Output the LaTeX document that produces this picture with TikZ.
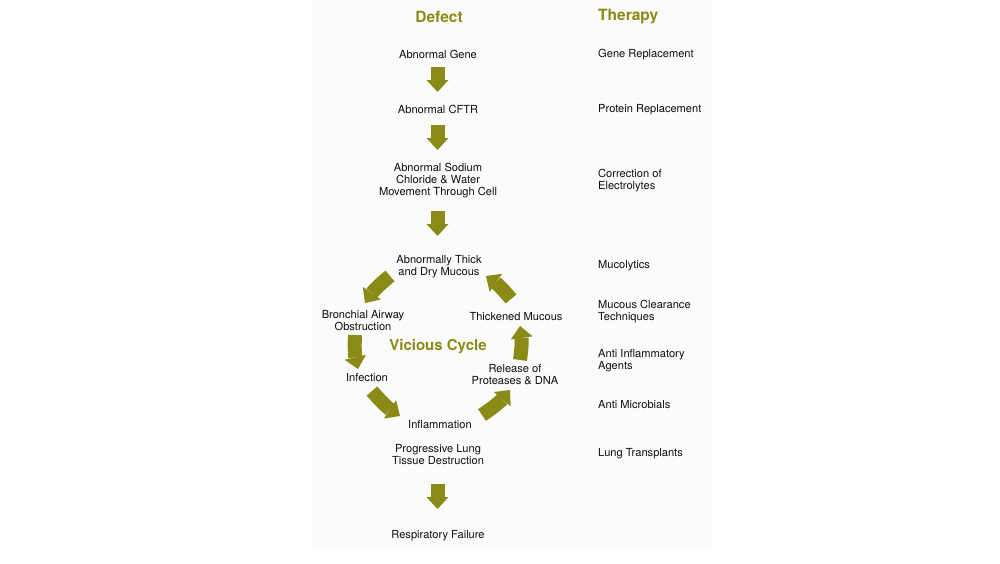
\documentclass[tikz,border=0pt]{standalone}
\usepackage{fontspec}
\setmainfont{TeX Gyre Heros}
\usetikzlibrary{arrows.meta}
\definecolor{olivebrand}{RGB}{138,138,22}
\definecolor{txt}{RGB}{15,15,15}
\definecolor{panel}{RGB}{251,251,251}
\tikzset{
  lbl/.style={text=txt, font=\fontsize{11.1}{12}\selectfont, align=center, inner sep=0pt},
  rlbl/.style={lbl, align=left, anchor=west},
  ttl/.style={text=olivebrand, font=\fontsize{15.5}{18}\bfseries\selectfont, inner sep=0pt},
  bigarrow/.style={draw=olivebrand, line width=14pt,
    -{Triangle[length=12pt, width=22pt, line width=0pt]}},
}
\begin{document}
\begin{tikzpicture}[x=1pt,y=1pt]
\useasboundingbox (0,0) rectangle (1000,-563);
\fill[panel] (311,0) rectangle (712,-548);

% titles
\node[ttl] (defect) at (439,-16.5) {Defect};
\node[ttl, anchor=west] (therapy) at (598,-16.5) {Therapy};

% defect column
\node[lbl] (gene) at (438,-54.5) {Abnormal Gene};
\node[lbl] (cftr) at (438,-109.5) {Abnormal CFTR};
\node[lbl] (sodium) at (438,-180.5) {Abnormal Sodium\\Chloride \& Water\\Movement Through Cell};
\node[lbl] (thick) at (439,-266.5) {Abnormally Thick\\and Dry Mucous};
\node[lbl] (bronch) at (363,-320.5) {Bronchial Airway\\Obstruction};
\node[lbl] (infect) at (367,-377.5) {Infection};
\node[lbl] (inflam) at (440,-424.5) {Inflammation};
\node[lbl] (release) at (515,-374.5) {Release of\\Proteases \& DNA};
\node[lbl] (thickened) at (516,-316.5) {Thickened Mucous};
\node[ttl, font=\fontsize{15}{18}\bfseries\selectfont] (vicious) at (438,-347) {Vicious Cycle};
\node[lbl] (prog) at (438,-454.5) {Progressive Lung\\Tissue Destruction};
\node[lbl] (resp) at (438,-535.5) {Respiratory Failure};

% therapy column
\node[rlbl] (gr) at (598,-54.5) {Gene Replacement};
\node[rlbl] (pr) at (598,-109.5) {Protein Replacement};
\node[rlbl] (corr) at (598,-180.5) {Correction of\\Electrolytes};
\node[rlbl] (muco) at (598,-265.5) {Mucolytics};
\node[rlbl] (mct) at (598,-311.5) {Mucous Clearance\\Techniques};
\node[rlbl] (aia) at (598,-360.5) {Anti Inflammatory\\Agents};
\node[rlbl] (am) at (598,-404.5) {Anti Microbials};
\node[rlbl] (lt) at (598,-453.5) {Lung Transplants};

% arrow end points
\coordinate (a1s) at (437.5,-67);  \coordinate (a1e) at (437.5,-92);
\coordinate (a2s) at (437.5,-125); \coordinate (a2e) at (437.5,-150);
\coordinate (a3s) at (437.5,-211); \coordinate (a3e) at (437.5,-236);
\coordinate (a4s) at (437.5,-484); \coordinate (a4e) at (437.5,-509);
\coordinate (c1s) at (390,-276); \coordinate (c1e) at (365,-303);
\coordinate (c2s) at (355,-335); \coordinate (c2e) at (358,-369);
\coordinate (c3s) at (372,-391); \coordinate (c3e) at (400,-416);
\coordinate (c4s) at (482,-415); \coordinate (c4e) at (510,-390);
\coordinate (c5s) at (520,-360); \coordinate (c5e) at (520,-326);
\coordinate (c6s) at (511,-299); \coordinate (c6e) at (486,-276);

\draw[bigarrow] (a1s) -- (a1e);
\draw[bigarrow] (a2s) -- (a2e);
\draw[bigarrow] (a3s) -- (a3e);
\draw[bigarrow] (a4s) -- (a4e);
\draw[bigarrow] (c1s) to[bend right=8] (c1e);
\draw[bigarrow] (c2s) to[bend right=8] (c2e);
\draw[bigarrow] (c3s) to[bend right=8] (c3e);
\draw[bigarrow] (c4s) to[bend right=8] (c4e);
\draw[bigarrow] (c5s) to[bend right=8] (c5e);
\draw[bigarrow] (c6s) to[bend right=8] (c6e);
\end{tikzpicture}
\end{document}
